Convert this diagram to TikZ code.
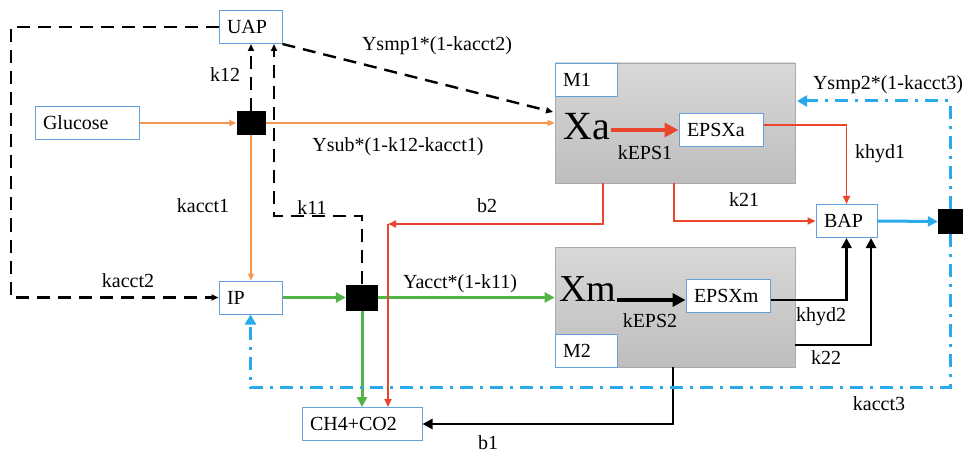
\documentclass[tikz,border=0pt]{standalone}
\usepackage{fontspec}
\setmainfont{Liberation Serif}
\usetikzlibrary{arrows.meta}
\definecolor{boxblue}{RGB}{100,160,220}
\definecolor{orng}{RGB}{245,150,80}
\definecolor{rd}{RGB}{235,70,45}
\definecolor{grn}{RGB}{80,180,70}
\definecolor{cyanb}{RGB}{40,170,235}
\definecolor{mgray}{RGB}{170,170,170}
\definecolor{gtop}{RGB}{216,216,216}
\definecolor{gbot}{RGB}{190,190,190}
\begin{document}
\begin{tikzpicture}[x=1pt,y=-1pt, font=\fontsize{20}{24}\selectfont,
  bx/.style={draw=boxblue, line width=1pt, fill=white, inner xsep=8pt, inner ysep=0pt, minimum height=33pt, align=left},
  sqr/.style={fill=black, draw=none, inner sep=0pt},
  mbox/.style={draw=mgray, line width=0.8pt, top color=gtop, bottom color=gbot, minimum width=240pt, minimum height=120pt, inner sep=0pt},
  lbl/.style={inner sep=0pt},
  dsh/.style={draw=black, line width=2.4pt, dash pattern=on 13pt off 8pt, -{Triangle[length=7pt,width=6pt]}},
  ddot/.style={draw=cyanb, line width=3pt, dash pattern=on 13pt off 7pt on 3pt off 7pt},
  orline/.style={draw=orng, line width=1.3pt, -{Triangle[length=7pt,width=6pt]}},
  rdline/.style={draw=rd, line width=1.8pt, -{Triangle[length=8pt,width=7pt]}},
  gnline/.style={draw=grn, line width=3pt, -{Triangle[length=10pt,width=10pt]}},
  bkline/.style={draw=black, line width=2.8pt, -{Triangle[length=10pt,width=10pt]}},
  blline/.style={draw=cyanb, line width=3pt, -{Triangle[length=10pt,width=10pt]}}
]
\useasboundingbox (0,0) rectangle (965,454);

% big boxes
\node[mbox] (m1) at (675,123) {};
\node[mbox] (m2) at (675,307) {};

% blue boxes
\node[bx, text width=47pt] (uap) at (250.5,27) {UAP};
\node[bx, text width=88pt] (glu) at (87,123) {Glucose};
\node[bx, text width=47pt] (ip) at (250.5,297.5) {IP};
\node[bx, text width=104pt] (ch4) at (362,424) {CH4+CO2};
\node[bx, text width=46pt] (m1l) at (586,80) {M1};
\node[bx, text width=46pt] (m2l) at (586,350.5) {M2};
\node[bx, text width=68pt] (epsxa) at (721,130) {EPSXa};
\node[bx, text width=68pt] (epsxm) at (728,296) {EPSXm};
\node[bx, text width=45pt] (bap) at (846.5,221) {BAP};

% black squares
\node[sqr, minimum width=29pt, minimum height=24pt] (sq1) at (251,123) {};
\node[sqr, minimum width=32pt, minimum height=26pt] (sq2) at (362,297.5) {};
\node[sqr, minimum width=25pt, minimum height=25pt] (sq3) at (950.5,221.5) {};

% big texts
\node[lbl, font=\fontsize{40}{44}\selectfont] (xa) at (587,127) {Xa};
\node[lbl, font=\fontsize{38}{42}\selectfont] (xm) at (588,289) {Xm};

% helper coordinates
\coordinate (lc) at (11,0);
\coordinate (k11c) at (274,216);
\coordinate (ys1) at (553,112);
\coordinate (b2a) at (603,224);
\coordinate (b2b) at (388,224);
\coordinate (k21c) at (674,0);
\coordinate (tp) at (797,101);
\coordinate (bt) at (951,387);
\coordinate (k22s) at (795,345);
\coordinate (k22x) at (871,0);
\coordinate (b1s) at (673,0);

% orange
\draw[orline] (glu.east) -- (sq1.west);
\draw[orline] (sq1.east) -- (m1.west);
\draw[orline] (sq1.south) -- (sq1.south |- ip.north);

% black dashed
\draw[dsh] (sq1.north) -- (sq1.north |- uap.south);
\draw[dsh] (sq2.north) |- (k11c) -- (k11c |- uap.south);
\draw[dsh] (uap.west) -| (lc |- ip.west) -- (ip.west);
\draw[dsh] (uap.south east) -- (ys1);

% green
\draw[gnline] (ip.east) -- (sq2.west);
\draw[gnline] (sq2.east) -- (m2.west |- sq2.east);
\draw[gnline] (sq2.south) -- (sq2.south |- ch4.north);

% red
\draw[rdline] (b2a |- m1.south) -- (b2a) -- (b2b);
\draw[rdline] (b2b) -- (b2b |- ch4.north);
\draw[rdline] (k21c |- m1.south) |- (bap.west);
\draw[rdline] ([yshift=5pt]epsxa.east) -| (bap.north);
\draw[draw=rd, line width=4pt, -{Triangle[length=14pt,width=14pt]}] (epsxa.west -| xa.east) -- (epsxa.west);

% black solid
\draw[draw=black, line width=3.5pt, -{Triangle[length=13pt,width=13pt]}] ([yshift=-4pt]epsxm.west -| xm.east) -- ([yshift=-4pt]epsxm.west);
\draw[bkline] ([yshift=-4pt]epsxm.east) -| (bap.south);
\draw[bkline] (k22s) -| (k22x |- bap.south);
\draw[bkline] (b1s |- m2.south) |- (ch4.east);

% blue
\draw[blline] (bap.east) -- (sq3.west);
\draw[ddot, -{Triangle[length=10pt,width=11pt]}] (sq3.north) |- (tp);
\draw[ddot, -{Triangle[length=10pt,width=11pt]}] (sq3.south) -- (sq3.south |- bt) -| (ip.south);

% labels
\node[lbl] (lk12) at (225,75) {k12};
\node[lbl] (lkacct1) at (203,206) {kacct1};
\node[lbl] (lk11) at (312,208) {k11};
\node[lbl] (lysmp1) at (437,46) {Ysmp1*(1-kacct2)};
\node[lbl] (lysub) at (398,147) {Ysub*(1-k12-kacct1)};
\node[lbl] (lb2) at (487,206) {b2};
\node[lbl] (lyacct) at (460,284) {Yacct*(1-k11)};
\node[lbl] (lkacct2) at (128,281) {kacct2};
\node[lbl] (lkeps1) at (645,153) {kEPS1};
\node[lbl] (lkeps2) at (650,321) {kEPS2};
\node[lbl] (lkhyd1) at (880,154) {khyd1};
\node[lbl] (lk21) at (744,200) {k21};
\node[lbl] (lysmp2) at (888,85) {Ysmp2*(1-kacct3)};
\node[lbl] (lkhyd2) at (821,317) {khyd2};
\node[lbl] (lk22) at (826,358) {k22};
\node[lbl] (lkacct3) at (879,404) {kacct3};
\node[lbl] (lb1) at (488,443) {b1};
\end{tikzpicture}
\end{document}
